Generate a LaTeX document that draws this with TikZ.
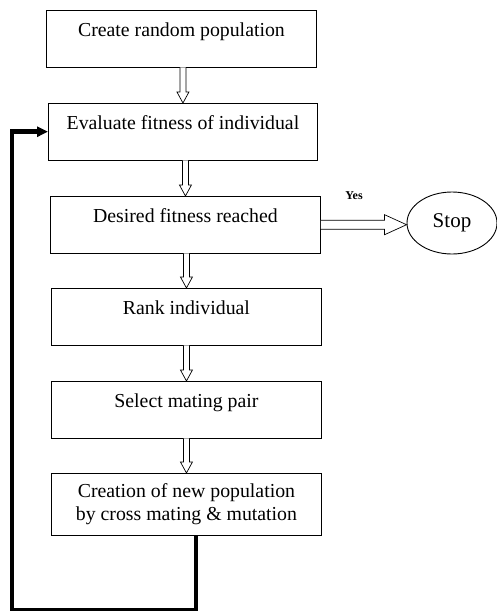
\documentclass[tikz,border=0pt]{standalone}
\usepackage{fontspec}
\setmainfont{Liberation Serif}
\usetikzlibrary{calc,shapes.geometric,arrows.meta}
\newcommand\holarrow[2]{%
  \draw[hol] ($(#2.north |- #1.south)+(-3,0)$) -- ($(#2.north)+(-3,-11)$) -- ($(#2.north)+(-6,-11)$) -- (#2.north) -- ($(#2.north)+(6,-11)$) -- ($(#2.north)+(3,-11)$) -- ($(#2.north |- #1.south)+(3,0)$);}
\begin{document}
\begin{tikzpicture}[x=1pt,y=-1pt,
  box/.style={draw, line width=0.9pt, minimum width=270pt, inner ysep=0pt,
    text height=26.5pt, text depth=30pt, font=\fontsize{19.8}{23}\selectfont, anchor=north west},
  boxtwo/.style={draw, line width=0.9pt, minimum width=270pt, minimum height=62pt,
    align=center, font=\fontsize{19.8}{23}\selectfont, anchor=north west},
  hol/.style={draw, line width=0.7pt, fill=white, line join=miter},
  fb/.style={line width=4.5pt, line join=miter, -{Triangle[length=11pt,width=10pt]}}]
\useasboundingbox (0,0) rectangle (496,611);

\node[box] (b1) at (46,10) {Create random population};
\node[box, minimum width=269pt] (b2) at (48,103) {Evaluate fitness of individual};
\node[box] (b3) at (50,196) {Desired fitness reached};
\node[box] (b4) at (51,288) {Rank individual};
\node[box] (b5) at (51,381) {Select mating pair};
\node[boxtwo] (b6) at (51,473) {Creation of new population\\by cross mating \& mutation};

\node[draw, ellipse, line width=0.9pt, minimum width=90pt, minimum height=62pt, inner sep=0pt,
  font=\fontsize{21}{25}\selectfont] (stop) at (452,223) {Stop};
\node[font=\bfseries\fontsize{12}{14}\selectfont] (yes) at (354,196) {Yes};

\holarrow{b1}{b2}
\holarrow{b2}{b3}
\holarrow{b3}{b4}
\holarrow{b4}{b5}
\holarrow{b5}{b6}

\coordinate (tip) at (stop.west |- b3.east);
\draw[hol] ($(b3.east)+(0,-4.5)$) -- ($(tip)+(-22,-4.5)$) -- ($(tip)+(-22,-10)$) -- (tip)
  -- ($(tip)+(-22,10)$) -- ($(tip)+(-22,4.5)$) -- ($(b3.east)+(0,4.5)$);

\draw[fb] ([xshift=145pt]b6.south west) -- ++(0,74) -| ([xshift=-36pt]b2.west) -- (b2.west);
\end{tikzpicture}
\end{document}
